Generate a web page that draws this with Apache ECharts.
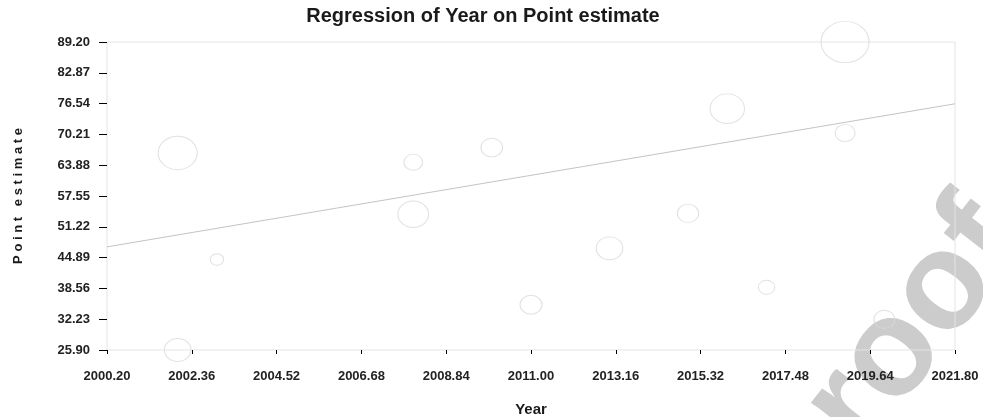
<!DOCTYPE html>
<html>
<head>
<meta charset="utf-8">
<script src="https://cdn.jsdelivr.net/npm/echarts@6/dist/echarts.min.js"></script>
<style>
  html, body { margin: 0; padding: 0; background: #ffffff; }
  #chart { width: 983px; height: 417px; }
</style>
</head>
<body>
<div id="chart"></div>
<script>
// Study-level estimates: year, point estimate and study weight (bubble area)
const years     = [2002, 2002, 2003, 2008, 2008, 2010, 2011, 2013, 2015, 2016, 2017, 2019, 2019, 2020];
const estimates = [66.4, 25.9, 44.5, 64.5, 53.8, 67.5, 35.2, 46.8, 54.0, 75.5, 38.8, 89.2, 70.5, 32.2];
const weights   = [15.2, 7.1, 1.8, 3.5, 9.4, 4.7, 4.8, 7.1, 4.5, 11.8, 2.7, 23.0, 4.0, 4.4];

// Fitted meta-regression line, evaluated at the ends of the year range
const fitYears = [2000.2, 2021.8];
const fitValues = [47.1, 76.5];

// Axis tick values
const xTicks = [2000.20, 2002.36, 2004.52, 2006.68, 2008.84, 2011.00, 2013.16, 2015.32, 2017.48, 2019.64, 2021.80];
const yTicks = [25.90, 32.23, 38.56, 44.89, 51.22, 57.55, 63.88, 70.21, 76.54, 82.87, 89.20];

const FONT = '"Liberation Sans", Arial, Helvetica, sans-serif';

const bubbles = years.map((y, i) => ({ value: [y, estimates[i]], w: weights[i] }));
const fitLine = fitYears.map((y, i) => [y, fitValues[i]]);

const chart = echarts.init(document.getElementById('chart'), null, { renderer: 'canvas' });

chart.setOption({
  backgroundColor: '#ffffff',
  animation: false,
  title: {
    text: 'Regression of Year on Point estimate',
    left: 478,
    textAlign: 'center',
    top: 1,
    textStyle: { fontFamily: FONT, fontWeight: 'bold', fontSize: 20, color: '#1a1a1a' }
  },
  grid: {
    left: 107, right: 28, top: 42, bottom: 67,
    outerBoundsMode: 'none',
    containLabel: false,
    show: true, borderColor: '#e4e4e4', borderWidth: 1, backgroundColor: 'transparent'
  },
  xAxis: {
    type: 'value',
    min: xTicks[0],
    max: xTicks[xTicks.length - 1],
    name: 'Year',
    nameLocation: 'middle',
    nameGap: 52,
    nameTextStyle: { fontFamily: FONT, fontWeight: 'bold', fontSize: 15, color: '#1a1a1a' },
    axisLine: { show: false },
    axisTick: { show: true, customValues: xTicks, length: 4, lineStyle: { color: '#000', width: 1 } },
    axisLabel: {
      customValues: xTicks,
      margin: 20,
      formatter: v => v.toFixed(2),
      fontFamily: FONT, fontWeight: 'bold', fontSize: 13, color: '#222'
    },
    splitLine: { show: false }
  },
  yAxis: {
    type: 'value',
    min: yTicks[0],
    max: yTicks[yTicks.length - 1],
    name: 'P o i n t   e s t i m a t e',
    nameLocation: 'middle',
    nameGap: 82,
    nameTextStyle: { fontFamily: FONT, fontWeight: 'bold', fontSize: 13, color: '#1a1a1a' },
    axisLine: { show: false },
    axisTick: { show: true, customValues: yTicks, length: 8, lineStyle: { color: '#000', width: 1 } },
    axisLabel: {
      customValues: yTicks,
      margin: 17,
      formatter: v => v.toFixed(2),
      fontFamily: FONT, fontWeight: 'bold', fontSize: 13, color: '#222'
    },
    splitLine: { show: false }
  },
  graphic: [{
    type: 'text',
    x: 998,
    y: 220,
    rotation: 52 * Math.PI / 180,
    z: -10,
    silent: true,
    style: {
      text: 'Journal Pre-proof',
      fontFamily: FONT,
      fontWeight: 'bold',
      fontSize: 138,
      fill: '#cccccc',
      align: 'right',
      verticalAlign: 'middle'
    }
  }],
  series: [
    {
      type: 'line',
      data: fitLine,
      symbol: 'none',
      lineStyle: { color: '#c4c4c4', width: 1 },
      z: 3
    },
    {
      type: 'scatter',
      data: bubbles,
      clip: false,
      symbol: 'circle',
      symbolSize: (val, p) => {
        const d = 10 * Math.sqrt(p.data.w);
        return [d, d * 0.86];
      },
      itemStyle: { color: 'rgba(255,255,255,0)', borderColor: '#dadada', borderWidth: 1 },
      z: 2
    }
  ]
});
</script>
</body>
</html>
